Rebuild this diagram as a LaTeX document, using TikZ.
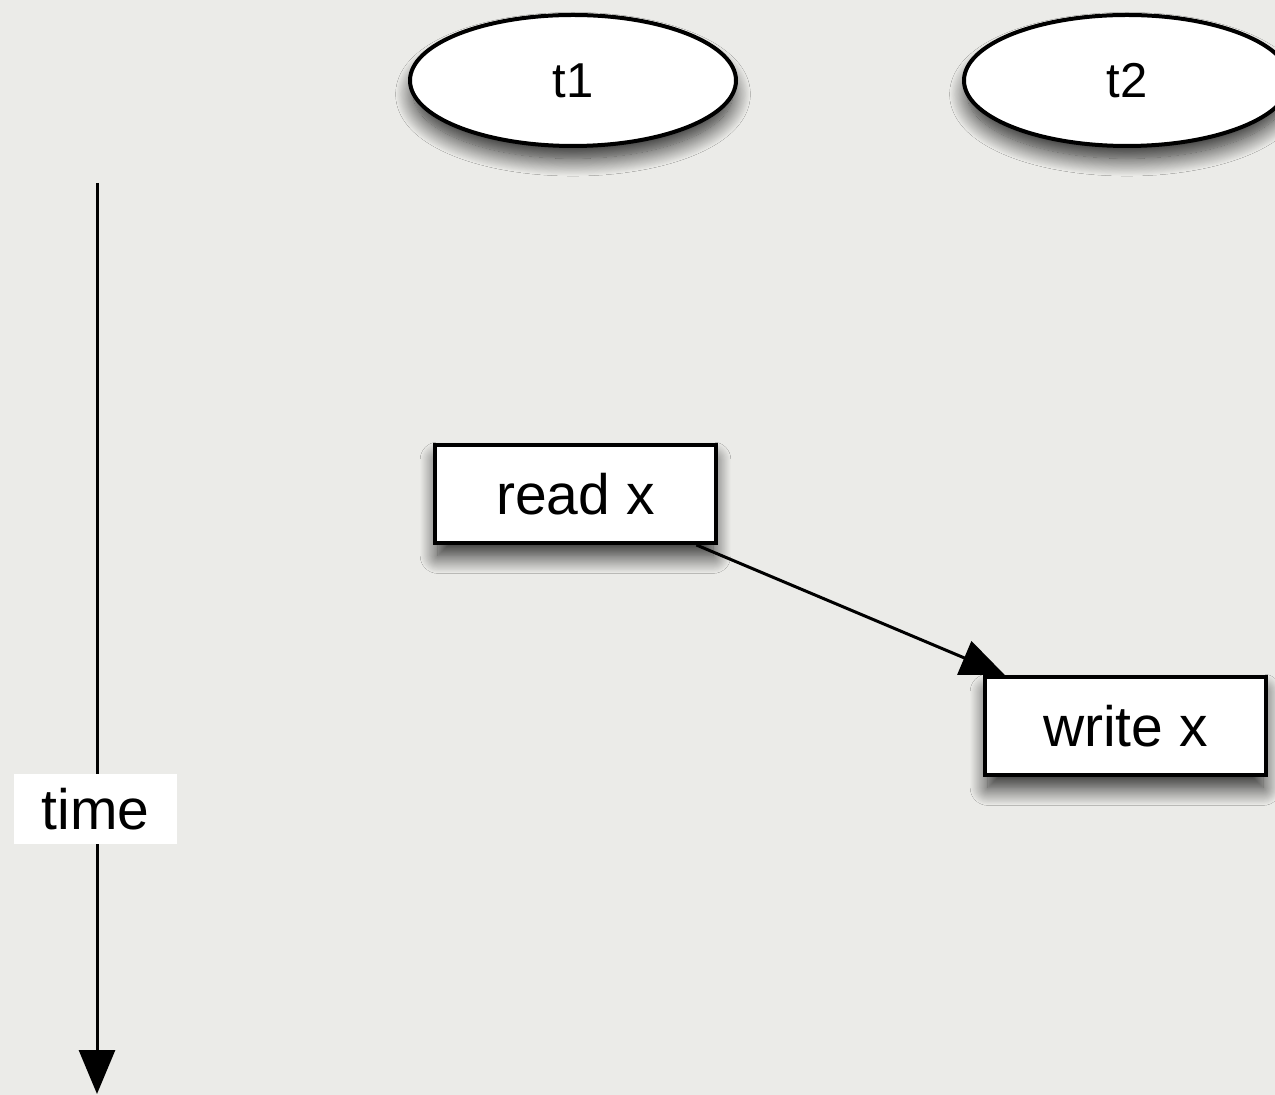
\documentclass[tikz,border=0pt]{standalone}
\usepackage{fontspec}
\setmainfont{Liberation Sans}
\usetikzlibrary{arrows.meta,shapes.geometric,shadows.blur}
\definecolor{bgcol}{HTML}{EBEBE8}
\begin{document}
\begin{tikzpicture}[x=0.5pt,y=-0.5pt,
  shad/.style={blur shadow={shadow xshift=0pt,shadow yshift=-7pt,shadow blur radius=9pt,shadow blur steps=20,shadow opacity=85,shadow scale=0.98}},
  thread/.style={ellipse,draw=black,line width=2pt,fill=white,shad,
    minimum width=163pt,minimum height=65.5pt,inner sep=0pt,
    font=\fontsize{24.5pt}{29pt}\selectfont},
  opbox/.style={rectangle,draw=black,line width=2pt,fill=white,shad,
    minimum width=140.5pt,minimum height=49pt,inner sep=0pt,
    font=\fontsize{28.5pt}{34pt}\selectfont},
  timelabel/.style={rectangle,fill=white,minimum width=81.5pt,minimum height=35pt,inner sep=0pt,
    font=\fontsize{28.5pt}{34pt}\selectfont},
  conn/.style={line width=1.5pt,-{Triangle[width=18pt,length=22pt]}}
]
\fill[bgcol] (0,0) rectangle (1275,1095);
\useasboundingbox (0,0) rectangle (1275,1095);
\clip (0,0) rectangle (1275,1095);

\node[thread] (t1) at (573,80.5) {t1};
\node[thread] (t2) at (1127,80.5) {t2};

\node[opbox] (read) at (575.5,494) {read x};
\node[opbox] (write) at (1125.5,726) {write x};

\coordinate (tstart) at (97,183);
\coordinate (tend) at (97,1094);
\draw[conn] (tstart) -- (tend);
\node[timelabel] (time) at (95.5,809) {time};

\draw[conn] (read) -- (write);
\end{tikzpicture}
\end{document}
